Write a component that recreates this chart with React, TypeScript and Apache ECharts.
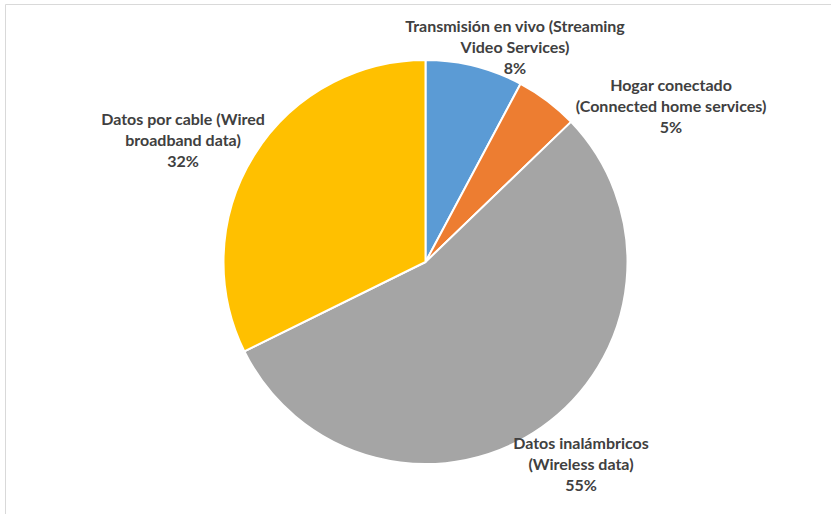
import React, { useEffect, useRef } from "react";
import * as echarts from "echarts";

const categories = [
  "Transmisión en vivo (Streaming\nVideo Services)",
  "Hogar conectado\n(Connected home services)",
  "Datos inalámbricos\n(Wireless data)",
  "Datos por cable (Wired\nbroadband data)",
];
const values = [7.8, 5.0, 54.9, 32.3];
const colors = ["#5B9BD5", "#ED7D31", "#A5A5A5", "#FFC000"];
const labelCenters: [number, number][] = [
  [515, 46],
  [671, 105],
  [581, 463],
  [183, 139],
];

export default function App() {
  const ref = useRef<HTMLDivElement>(null);
  useEffect(() => {
    if (!ref.current) return;
    const chart = echarts.init(ref.current, null, { renderer: "svg" });
    chart.setOption({
      animation: false,
      backgroundColor: "#ffffff",
      graphic: [
        {
          type: "rect",
          shape: { x: 5.5, y: 4.5, width: 900, height: 600 },
          style: { fill: "none", stroke: "#D9D9D9", lineWidth: 1 },
          silent: true,
        },
      ],
      series: [
        {
          type: "pie",
          center: [425.5, 262],
          radius: [0, 202],
          startAngle: 90,
          clockwise: true,
          percentPrecision: 0,
          itemStyle: { borderColor: "#ffffff", borderWidth: 2 },
          labelLine: { show: false },
          label: {
            show: true,
            position: "outside",
            formatter: "{b}\n{d}%",
            fontFamily: "Lato",
            fontWeight: "bold",
            fontSize: 16,
            lineHeight: 21,
            color: "#404040",
            align: "center",
          },
          labelLayout: (params: any) => {
            const p = labelCenters[params.dataIndex];
            return { x: p[0], y: p[1], align: "center", verticalAlign: "middle" };
          },
          data: categories.map((name, i) => ({
            name,
            value: values[i],
            itemStyle: { color: colors[i] },
          })),
        },
      ],
    });
    return () => chart.dispose();
  }, []);
  return (
    <div
      ref={ref}
      style={{ position: "fixed", left: 0, top: 0, width: 831, height: 514 }}
    />
  );
}
